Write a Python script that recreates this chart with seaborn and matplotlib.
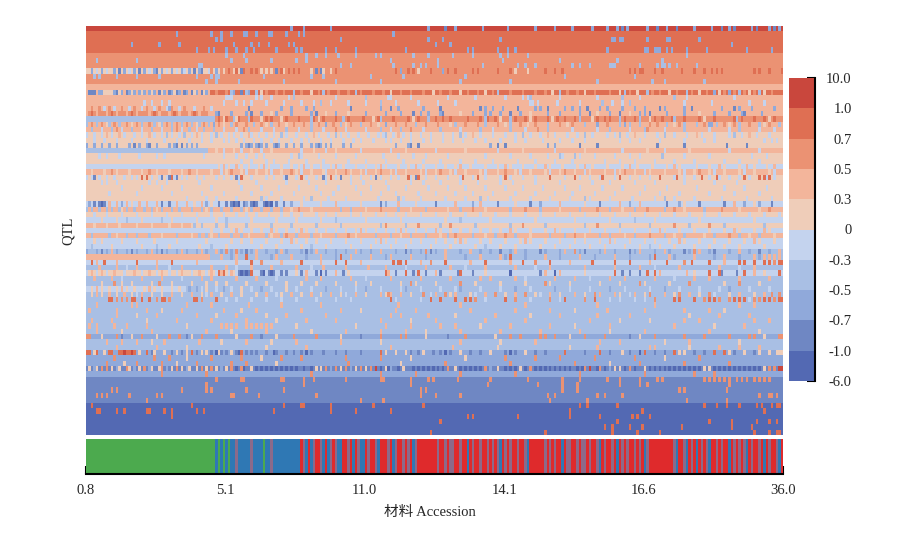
import numpy as np
import pandas as pd
import matplotlib
matplotlib.use("Agg")
import matplotlib.pyplot as plt
import seaborn as sns
from matplotlib.colors import ListedColormap, BoundaryNorm

sns.set_style("white")
plt.rcParams['font.family'] = ['Liberation Serif', 'Noto Sans CJK SC']

n_col = 280
level_labels = ['-6.0', '-1.0', '-0.7', '-0.5', '-0.3', '0', '0.3', '0.5', '0.7', '1.0', '10.0']
level_colors = ['#5369B3', '#6F87C3', '#90A9DA', '#A9BFE4', '#C4D3EE',
                '#EFCDB9', '#F3B59B', '#EB9273', '#DF6F53', '#C9473D']
acc_ticks = ['0.8', '5.1', '11.0', '14.1', '16.6', '36.0']

# main level of every QTL row, top to bottom
row_base = [9, 8, 8, 8, 8, 7, 7, 7, 7, 7, 7, 6, 8, 6, 6, 6, 6, 7, 6, 6,
            5, 5, 5, 6, 5, 5, 4, 6, 5, 5, 5, 5, 5, 4, 6, 5, 4, 5, 4, 6,
            4, 4, 3, 3, 4, 3, 4, 3, 3, 3, 3, 3, 3, 3, 3, 3, 3, 3, 2, 3,
            3, 2, 2, 2, 1, 2, 1, 1, 1, 1, 1, 0, 0, 0, 0, 0, 0]

# rows whose left part sits at another level: row -> (level, last column)
row_left = {8: (5, 50), 12: (6, 50), 15: (6, 55), 16: (7, 50), 17: (3, 52), 23: (3, 49),
            26: (4, 50), 37: (6, 42), 43: (6, 50), 46: (5, 60), 49: (4, 40)}

# accessions that leave the row level: row -> {level: columns}
row_marks = {
    0: {2: [82, 87, 98, 137, 148, 159, 169, 180, 188, 195, 203, 209, 213, 217, 225, 233, 244, 251, 258, 267, 274, 278],
        1: [144, 215, 229, 237, 255, 260, 269, 276]},
    1: {2: [36, 50, 54, 58, 63, 64, 68, 73, 74, 80, 85, 87, 123]},
    2: {2: [52, 54, 102, 137, 143, 166, 211, 214, 225, 233, 212, 215, 234, 246]},
    3: {2: [18, 29, 37, 59, 66, 69, 73, 81, 83, 140, 146, 259]},
    4: {2: [44, 49, 51, 56, 60, 64, 67, 76, 84, 86, 96, 100, 108, 128, 153, 155, 165, 169, 172, 224, 228, 229, 233, 209, 225, 230, 235, 241, 249, 265, 275]},
    5: {3: [56, 63, 88, 92, 96, 101, 108, 116, 118, 131, 137, 147, 155, 166, 169, 177, 241]},
    6: {3: [4, 20, 58, 64, 74, 84, 88, 122, 141, 167, 190, 213, 231]},
    7: {3: [45, 46, 102, 106, 123, 131, 134, 136, 141, 159, 173, 176, 180, 195, 198, 202, 210, 222, 229, 232, 211, 212, 231, 234, 237, 245]},
    8: {2: [2, 6, 11, 15, 19, 23, 27, 30, 34, 38, 41, 45, 52, 126, 143],
        1: [13, 21, 28, 43, 46, 62, 76, 94, 92],
        4: [4, 8, 17, 25, 32, 36, 39, 49],
        5: [51, 53, 55, 59, 61, 70, 72, 74, 79, 90, 95, 98, 133, 172, 177],
        8: [57, 60, 63, 66, 68, 78, 81, 83, 85, 100, 124, 129, 131, 138, 145, 148, 155, 157, 165, 170, 184, 188, 191, 218, 220, 222, 223, 228, 231, 239, 244, 248, 251, 253, 255, 268, 270, 274, 279]},
    9: {3: [3, 5, 12, 20, 29, 44, 50, 52, 53, 71, 90, 95, 114, 127, 152, 192, 220]},
    10: {3: [48, 52, 61, 79, 100, 118, 150, 170, 205, 227, 232, 248]},
    12: {1: [1, 2, 3, 12, 16, 29, 33, 36, 39, 42, 46, 62],
         2: [5, 6, 11, 14, 17, 19, 21, 23, 25, 27, 31, 34, 37, 40, 44, 48, 59, 65, 252, 258],
         3: [58, 64, 68, 83, 95, 108, 165, 190, 216, 225, 241, 262, 270],
         5: [7, 8, 9, 10, 13, 18, 22, 26, 30, 35, 43, 47, 70, 90, 122, 139, 150, 160, 187, 200, 214, 221, 234, 246, 254, 266, 272],
         7: [52, 56, 72, 76, 79, 86, 93, 97, 101, 105, 110, 115, 119, 126, 130, 135, 142, 146, 153, 157, 163, 170, 175, 180, 184, 193, 197, 204, 210, 218, 227, 230, 237, 243, 249, 256, 260, 264, 268, 275]},
    13: {4: [56, 57, 58, 68, 70, 74, 81, 100, 121, 122, 130, 145, 156, 168, 175, 177, 190, 205, 222, 241, 260],
         3: [83, 112, 178, 215, 236]},
    14: {4: [23, 26, 30, 33, 55, 60, 63, 66, 72, 79, 86, 91, 98, 105, 112, 124, 133, 141, 148, 178, 179, 181, 189, 198, 211, 215, 240, 251, 266, 272],
         3: [94, 118, 207, 218]},
    15: {7: [2, 5, 9, 14, 19, 24, 29, 34, 39, 47],
         4: [7, 11, 17, 22, 27, 32, 37, 43, 50],
         2: [33, 78, 82, 88, 91, 118, 125, 135, 160, 163, 167, 180, 182, 192, 195, 198, 206, 209, 215, 220, 224, 232, 240, 255, 262, 267, 276],
         1: [65, 106, 122, 142, 158, 173, 185, 201, 230, 243, 260]},
    16: {6: [0, 4, 8, 12, 16, 20, 25, 29, 33, 37, 41, 45, 49],
         8: [2, 10, 18, 27, 35, 43],
         2: [52, 58, 64, 70, 76, 82, 90, 100, 112, 120, 126, 134, 137, 142, 155, 160, 162, 166, 174, 185, 190, 198, 210, 222, 224, 233, 240, 252, 258, 263, 271],
         1: [53, 66, 92, 131, 143, 170, 202, 214, 226, 264],
         5: [74, 96, 105, 150, 178, 205, 218, 246]},
    17: {8: [53, 56, 61, 66, 72, 74, 80, 85, 91, 95, 100, 105, 111, 117, 123, 129, 133, 140, 143, 146, 153, 158, 161, 164, 172, 176, 180, 185, 189, 192, 196, 205, 208, 210, 216, 220, 228, 231, 235, 240, 246, 252, 260, 263, 268, 272, 276],
         7: [54, 58, 63, 68, 76, 82, 88, 97, 102, 108, 113, 120, 126, 135, 148, 151, 156, 168, 174, 183, 194, 200, 212, 218, 224, 233, 238, 243, 250, 255, 258, 265, 270, 278],
         5: [55, 60, 70, 78, 93, 115, 131, 166, 178, 187, 203, 226, 248, 274],
         3: [59, 65, 90, 103, 118, 137, 160, 170, 198, 214, 222, 236, 261]},
    18: {3: [0, 4, 9, 13, 22, 27, 30, 34, 38, 42, 45, 49, 58, 67, 74, 90, 102, 110, 132, 148, 160, 170, 185, 200, 214, 218, 222, 233, 240, 245, 253, 262, 270, 278],
         2: [51, 96, 120, 205, 216, 250, 251],
         7: [2, 6, 11, 16, 20, 25, 32, 36, 40, 47, 53, 60, 64, 70, 77, 83, 87, 93, 99, 106, 114, 124, 128, 136, 141, 152, 157, 165, 174, 180, 190, 195, 209, 226, 229, 238, 248, 256, 260, 266, 274],
         5: [8, 18, 29, 44, 55, 72, 80, 104, 117, 146, 168, 177, 193, 236, 258, 272]},
    19: {3: [2, 10, 18, 26, 34, 41, 47, 51, 65, 80, 90, 118, 126, 142, 158, 170, 185, 210, 224, 240, 262],
         4: [6, 14, 22, 30, 38, 44, 55, 60, 70, 75, 85, 95, 104, 112, 122, 135, 150, 163, 176, 195, 205, 218, 232, 250, 258, 270, 276],
         7: [12, 36, 63, 100, 130, 181, 225]},
    20: {4: [0, 3, 6, 10, 15, 19, 22, 27, 30, 34, 37, 42, 46, 50, 54, 57, 59, 62, 66, 69, 72, 75, 80, 84, 88, 93, 97, 102, 105, 109, 113, 117, 119, 123, 127, 130, 134, 138, 143, 147, 152, 158, 163, 168, 172, 178, 182, 188, 193, 197, 203, 209, 212, 217, 224, 229, 236, 241, 247, 252, 258, 263, 269, 274],
         3: [32, 39, 52, 78, 100, 120, 150, 175, 200, 214, 232, 260],
         6: [8, 13, 25, 44, 65, 91, 125, 155, 185, 220, 245, 266]},
    21: {4: [3, 7, 12, 18, 24, 31, 36, 41, 46, 50, 55, 57, 60, 63, 67, 70, 74, 77, 82, 86, 89, 94, 98, 103, 107, 110, 115, 120, 122, 126, 130, 135, 138, 143, 147, 151, 156, 160, 166, 172, 176, 183, 190, 195, 200, 214, 218, 222, 230, 240, 248, 252, 272, 275, 277]},
    22: {2: [0, 3, 6, 9, 12, 17, 21, 24, 28, 33, 35, 40, 42, 44, 62, 64, 66, 68, 70, 72, 75, 77, 80, 83, 86, 90, 92, 94, 96, 98, 103, 106, 124, 129, 162, 185, 188],
         1: [19, 25, 36, 38, 65, 69, 76, 93, 130, 133, 165, 168, 198, 205, 229, 240, 257, 265]},
    23: {5: [52, 59, 66, 74, 91, 100, 128, 152, 175, 200, 225, 242],
         4: [55, 62, 70, 86, 96, 110, 122, 140, 165, 188, 215, 232, 258, 270]},
    24: {4: [5, 8, 13, 21, 28, 31, 47, 55, 60, 64, 68, 71, 82, 86, 93, 100, 108, 119, 125, 131, 136, 145, 160, 170, 178, 185, 191, 198, 204, 212, 218, 222, 240, 250, 267, 273],
         3: [85, 190, 196, 231]},
    25: {4: [62, 66, 72, 75, 81, 88, 95, 105, 112, 120, 127, 135, 142, 150, 156, 163, 173, 180, 188, 195, 208, 214, 220, 228, 236, 244, 256, 262, 270]},
    26: {5: [53, 57, 62, 65, 69, 73, 78, 82, 85, 90, 94, 98, 103, 108, 112, 116, 120, 125, 129, 135, 140, 144, 148, 154, 160, 165, 170, 175, 180, 186, 191, 197, 203, 209, 215, 221, 227, 233, 238, 245, 250, 256, 262, 268, 273],
         6: [55, 60, 71, 87, 100, 118, 132, 150, 168, 184, 200, 218, 236, 254, 265, 276]},
    27: {5: [2, 7, 12, 17, 22, 28, 33, 38, 44, 50, 56, 62, 68, 72, 78, 84, 90, 95, 100, 106, 110, 116, 122, 128, 134, 140, 146, 152, 158, 165, 172, 178, 184, 190, 196, 202, 208, 214, 220, 226, 232, 238, 244, 250, 256, 262, 268, 274],
         4: [54, 64, 74, 86, 96, 112, 124, 136, 148, 160, 174, 186, 200, 212, 224, 240, 252, 264, 276],
         7: [10, 25, 41, 58, 82, 104, 118, 142, 168, 192, 216, 246]},
    28: {4: [0, 2, 5, 8, 11, 15, 18, 20, 26, 29, 32, 35, 38, 40, 44, 47, 52, 55, 58, 61, 66, 72, 75, 79, 84, 88, 92, 96, 100, 106, 110, 114, 118, 122, 125, 130, 136, 140, 145, 150, 155, 160, 166, 170, 175, 180, 186, 192, 198, 202, 206, 212, 218, 222, 226, 230, 236, 240, 244, 250, 254, 258, 262, 266, 270, 273, 276],
         1: [3, 30, 33, 36, 60, 80, 95, 102, 116, 132],
         8: [22, 24, 34, 62, 86, 98, 129, 133, 151, 157, 168, 186, 196, 207, 214, 230, 237, 247, 253, 264, 270, 272, 274]},
    29: {4: [6, 8, 12, 25, 28, 32, 45, 61, 68, 80, 89, 96, 106, 111, 120, 130, 135, 142, 150, 157, 166, 171, 180, 190, 203, 210, 220, 228, 240, 252, 261]},
    30: {4: [14, 22, 30, 38, 50, 62, 70, 77, 85, 92, 101, 108, 114, 121, 128, 137, 145, 152, 160, 168, 175, 183, 192, 198, 207, 215, 224, 233, 245, 256, 264, 273]},
    31: {4: [9, 20, 34, 46, 55, 66, 74, 83, 94, 99, 110, 118, 124, 133, 140, 148, 155, 163, 172, 180, 188, 195, 204, 212, 222, 230, 238, 250, 260, 270]},
    32: {4: [40, 48, 52, 60, 72, 78, 87, 97, 104, 117, 127, 134, 144, 152, 161, 170, 178, 186, 194, 202, 210, 219, 228, 236, 244, 255, 265, 275],
         3: [70, 90, 125, 158, 200, 232]},
    33: {1: [3, 5, 7, 30, 33, 53, 56, 58, 60, 63, 66, 68, 71, 73, 76, 79, 118, 140, 165, 178, 206, 233, 246, 256, 275],
         0: [6, 59, 61, 67, 72, 74],
         6: [9, 12, 16, 21, 24, 28, 36, 40, 46, 82, 100, 125, 148, 158, 190, 214, 222, 260],
         5: [18, 43, 50, 86, 94, 110, 132, 172, 200, 240, 268],
         2: [1, 14, 48, 64, 82, 120, 155, 182, 218, 238, 264, 270]},
    34: {3: [0, 2, 5, 8, 10, 13, 16, 19, 23, 26, 30, 34, 37, 42, 46, 50, 54, 58, 62, 66, 70, 74, 78, 102, 106, 125, 136, 150, 170, 182, 198, 210, 220, 232, 248],
         5: [14, 28, 48, 64, 82, 90, 112, 130, 145, 160, 190, 215, 240, 262, 270],
         7: [85, 118, 155, 176, 205, 225, 236, 255, 274]},
    35: {4: [3, 8, 14, 20, 26, 32, 38, 44, 50, 55, 60, 64, 68, 73, 78, 82, 86, 92, 96, 100, 106, 110, 116, 120, 124, 128, 134, 140, 146, 152, 158, 164, 170, 176, 182, 188, 194, 200, 206, 212, 218, 224, 230, 236, 242, 248, 254, 260, 266, 272, 278]},
    36: {5: [6, 12, 22, 34, 44, 52, 66, 76, 84, 94, 112, 126, 144, 162, 180, 196, 210, 228, 246, 268],
         3: [16, 30, 56, 100, 150, 220]},
    37: {5: [3, 8, 13, 20, 26, 33, 38, 44, 47, 50, 54, 58, 62, 68, 72, 76, 80, 85, 90, 95, 100, 105, 111, 116, 120, 125, 130, 136, 140, 146, 152, 158, 162, 168, 174, 180, 186, 192, 198, 204, 210, 216, 222, 228, 234, 240, 246, 252, 258, 264, 270, 276],
         3: [43, 46, 52, 56, 64, 74, 82, 92, 102, 118, 128, 142, 156, 170, 184, 200, 214, 226, 242, 256, 272],
         7: [120, 133, 146, 175, 205, 236, 250]},
    38: {5: [50, 54, 58, 62, 66, 70, 76, 80, 84, 88, 92, 96, 100, 104, 108, 112, 116, 120, 124, 128, 132, 136, 142, 146, 150, 154, 158, 162, 166, 172, 178, 184, 190, 196, 202, 208, 214, 220, 226, 232, 238, 244, 250, 256, 262, 268, 274],
         6: [60, 74, 86, 110, 126, 140, 170, 188, 230, 260, 272]},
    39: {3: [2, 9, 16, 20, 25, 36, 45, 48, 53, 58, 62, 72, 78, 84, 90, 100, 116, 122, 130, 136, 145, 155, 164, 172, 186, 192, 206, 210, 220, 232, 240, 252, 262, 270],
         5: [12, 30, 42, 50, 65, 74, 94, 108, 126, 142, 160, 178, 200, 216, 236, 248, 266, 276],
         7: [80, 105, 148, 168, 196, 226, 258]},
    40: {5: [3, 6, 14, 20, 27, 36, 48, 58, 62, 66, 72, 78, 84, 88, 92, 98, 104, 110, 116, 120, 124, 130, 134, 140, 144, 148, 152, 158, 162, 168, 174, 178, 184, 190, 196, 200, 206, 212, 218, 224, 228, 234, 240, 246, 252, 258, 264, 270, 276],
         6: [82, 118, 150, 176, 210, 238, 268]},
    41: {5: [10, 22, 33, 45, 56, 70, 76, 86, 96, 106, 114, 122, 128, 138, 146, 156, 166, 172, 182, 188, 194, 202, 208, 216, 222, 230, 236, 244, 250, 256, 262, 272],
         3: [2, 28, 50, 90, 160, 226]},
    42: {2: [0, 4, 8, 12, 16, 20, 24, 28, 32, 36, 40, 44, 48, 54, 58, 62, 66, 72, 76, 80, 86, 90, 96, 100, 104, 110, 114, 124, 130, 134, 140, 150, 158, 162, 170, 176, 184, 190, 198, 206, 212, 220, 228, 234, 242, 250, 258, 266, 274],
         1: [6, 18, 30, 64, 88, 128, 138, 166, 182, 200, 218, 240, 252, 270],
         6: [10, 26, 38, 46, 52, 68, 78, 92, 108, 118, 144, 154, 172, 192, 208, 222, 232, 246, 262, 278],
         7: [56, 60, 136, 196, 244]},
    43: {3: [52, 56, 62, 66, 70, 78, 84, 90, 96, 104, 110, 116, 126, 132, 140, 148, 156, 162, 172, 180, 186, 194, 200, 208, 214, 222, 230, 240, 248, 258, 266],
         2: [58, 74, 88, 100, 120, 136, 152, 168, 176, 190, 204, 218, 226, 236, 252, 262, 270],
         6: [54, 60, 68, 76, 82, 94, 106, 114, 122, 130, 144, 158, 166, 184, 198, 212, 234, 244, 256, 268, 272, 274, 276, 278],
         8: [64, 102, 170, 228]},
    44: {4: [10, 16, 24, 30, 36, 50, 56, 66, 74, 82, 90, 98, 106, 114, 122, 130, 136, 142, 150, 158, 166, 174, 182, 190, 198, 206, 214, 222, 230, 238, 246, 254, 262, 270],
         8: [2, 7, 20, 34, 66, 86, 100, 104, 123, 125, 126, 128, 144, 160, 175, 186, 203, 212, 218, 233, 243, 250, 262, 264, 268, 272, 274, 278, 279],
         6: [4, 12, 28, 44, 60, 78, 94, 110, 134, 154, 170, 194, 226, 256],
         7: [70, 138, 180, 240, 276]},
    45: {6: [5, 12, 20, 28, 38, 50, 56, 66, 74, 84, 95, 104, 113, 120, 136, 146, 160, 172, 186, 200, 212, 222, 238, 254, 268],
         4: [16, 33, 60, 90, 128, 152, 180, 228, 262]},
    46: {4: [0, 4, 8, 15, 22, 28, 33, 36, 42, 48, 52, 57],
         6: [2, 6, 11, 19, 25, 30, 38, 45, 50, 54, 58, 88, 100, 121, 140, 184, 190, 230, 241, 268],
         1: [61, 63, 65, 70, 73, 75, 78, 80, 86, 92, 96, 103, 124, 131, 136, 142, 149, 155, 182, 215, 218, 222, 255, 261],
         0: [62, 64, 71, 74, 94, 170, 188],
         8: [53, 55, 66, 120, 128, 133, 150, 212, 225, 228, 250, 254, 264, 278],
         5: [84, 105, 160, 200, 244, 272]},
    47: {6: [3, 10, 22, 30, 46, 50, 60, 68, 88, 94, 106, 122, 134, 146, 158, 162, 172, 188, 196, 210, 216, 228, 244, 250, 262, 274],
         4: [14, 38, 76, 112, 176, 202, 236]},
    48: {5: [6, 14, 18, 26, 34, 42, 48, 52, 56, 64, 72, 80, 86, 92, 100, 108, 114, 126, 132, 140, 150, 156, 166, 176, 186, 194, 206, 214, 224, 234, 242, 256, 270],
         7: [11, 29, 130, 150, 184, 222, 242, 262]},
    49: {5: [2, 6, 9, 12, 16, 19, 23, 27, 30, 34, 37, 48, 62, 80],
         2: [41, 44, 55, 70, 96, 112, 128, 150, 172, 188, 210, 232, 258],
         6: [4, 14, 25],
         4: [46, 52, 58, 66, 74, 84, 90, 102, 108, 118, 126, 134, 142, 148, 158, 166, 178, 194, 202, 216, 226, 238, 246, 254, 266, 274]},
    50: {5: [2, 6, 12, 18, 26, 30, 38, 46, 54, 62, 68, 78, 86, 94, 102, 112, 120, 130, 146, 154, 168, 180, 190, 200, 214, 224, 236, 246, 258, 268],
         6: [4, 9, 15, 22, 34, 42, 50, 58, 72, 82, 90, 98, 108, 118, 122, 126, 140, 148, 160, 172, 186, 196, 206, 212, 220, 232, 242, 262, 272],
         7: [121, 135, 144, 164, 176, 204, 226, 238, 250, 275, 278],
         4: [20, 48, 76, 104, 138, 156, 182, 218, 252]},
    51: {8: [9, 10, 18, 19, 22, 25, 30, 31, 43, 44, 52, 122, 138, 142, 148, 152, 154, 168, 192, 204, 236, 238, 244, 250, 252, 260, 262, 264, 272, 274, 278, 279],
         7: [12, 14, 16, 28, 33, 46, 156, 172, 186, 200, 228, 248, 254, 258, 268, 270, 276],
         4: [56, 60, 66, 72, 78, 84, 92, 100, 106, 124, 134, 160, 178, 190, 210, 214, 220, 224, 266]},
    52: {6: [4, 18, 20, 40, 50, 65, 78, 94, 125, 150, 176, 205, 228, 262, 268]},
    53: {6: [1, 12, 24, 38, 55, 68, 86, 102, 124, 132, 154, 172, 186, 209, 224, 240, 250],
         5: [30, 62, 110, 196, 256]},
    54: {6: [12, 28, 44, 60, 80, 96, 122, 126, 137, 164, 190, 205, 218, 254, 266],
         5: [20, 52, 72, 148, 178, 242]},
    55: {6: [2, 10, 36, 50, 64, 88, 100, 118, 140, 160, 176, 202, 240, 246, 268, 274],
         5: [24, 76, 130, 214, 226]},
    56: {6: [1, 4, 11, 16, 24, 54, 56, 58, 60, 64, 66, 68, 70, 72, 74, 120, 130, 142, 148, 170, 186, 210, 236, 264],
         5: [40, 84, 108, 158, 196, 252]},
    57: {6: [4, 26, 48, 72, 104, 118, 128, 150, 166, 182, 198, 224, 250],
         5: [14, 58, 90, 136, 210, 270]},
    58: {7: [0, 1, 12, 22, 33, 37, 46, 52, 66, 83, 92, 118, 126, 128, 152, 170, 174, 182, 184, 188, 200, 208, 228, 240, 248, 258, 266, 268, 278, 279],
         5: [6, 18, 28, 42, 60, 76, 102, 136, 164, 194, 222, 272],
         1: [14, 40, 70, 110, 145, 218]},
    59: {6: [8, 14, 20, 31, 45, 64, 84, 102, 150, 180, 206, 214, 242],
         5: [26, 54, 74, 118, 166, 232, 262]},
    60: {6: [12, 28, 88, 122, 147, 205, 226, 228, 254, 262, 270],
         5: [40, 72, 165, 194, 242]},
    61: {8: [0, 1, 4, 9, 10, 13, 14, 16, 17, 19, 24, 42, 62, 118, 192, 206, 224, 236, 252, 256],
         9: [15, 18],
         5: [3, 7, 21, 27, 31, 36, 40, 46, 48, 53, 58, 120, 124, 128, 135, 150, 162, 176, 215, 238, 240, 258, 264, 270, 274, 277, 278, 279],
         1: [26, 34, 38, 44, 50, 54, 56, 60, 64, 66, 68, 72, 76, 80, 83, 86, 90, 95, 100, 104, 110, 130, 133, 139, 142, 146, 154, 158, 168, 172, 180, 184, 200, 210, 218, 228, 232, 244, 248, 260, 268],
         0: [52, 61, 75, 88, 144, 170, 222]},
    62: {7: [11, 27, 33, 50, 62, 78, 86, 104, 118, 168, 180, 190, 204, 220, 246],
         5: [40, 70, 130, 152, 232]},
    63: {7: [8, 20, 30, 44, 58, 64, 105, 144, 170, 196, 222, 240, 258],
         5: [15, 36, 76, 126, 210]},
    64: {0: [60, 63, 68, 70, 72, 74, 76, 78, 80, 82, 84, 87, 90, 118, 121, 125, 131, 133, 135, 137, 139, 141, 143, 150, 152, 154, 156, 158, 168, 170, 172, 176, 180, 182, 184, 186, 188, 190, 192, 194, 197, 199, 205, 208, 216, 220, 226, 228, 230, 232, 234, 236, 238, 240, 242, 244, 246, 252, 254, 256, 258, 260, 262, 264, 266, 268, 270],
         5: [1, 4, 10, 13, 17, 21, 26, 29, 34, 38, 41, 44, 48, 52, 56, 66, 92, 94, 102, 108, 112, 120, 127, 148, 165, 174, 212, 214, 224, 248, 250, 272],
         7: [6, 8, 16, 23, 30, 36, 46, 50, 58, 62, 96, 100, 104, 110, 114, 145, 160, 178, 200, 206, 218, 274, 276],
         9: [116, 202, 278, 279],
         2: [3, 12, 19, 25, 32, 40, 54, 98, 106, 122, 162, 210]},
    65: {7: [30, 48, 90, 118, 132, 150, 172, 198, 224, 244, 252]},
    66: {7: [52, 62, 63, 78, 79, 87, 91, 104, 118, 119, 130, 137, 139, 149, 162, 177, 191, 198, 209, 214, 222, 229, 231, 248, 250, 252, 254, 256, 258, 261, 263, 265, 268, 270, 272, 274]},
    67: {7: [48, 87, 130, 161, 181, 191, 197, 214, 222, 225, 258]},
    68: {7: [10, 12, 38, 48, 50, 64, 79, 134, 136, 191, 197, 238, 240, 257]},
    69: {7: [4, 6, 8, 17, 28, 30, 58, 59, 69, 92, 134, 140, 150, 185, 188, 205, 208, 215, 270, 274, 275, 277]},
    70: {7: [24, 110, 119, 186, 201, 241, 257]},
    71: {8: [2, 42, 79, 86, 87, 98, 115, 135, 198, 201, 213, 248, 253, 257, 262, 269, 271, 275, 277, 278]},
    72: {8: [4, 5, 12, 15, 24, 25, 31, 34, 44, 47, 75, 98, 108, 122, 194, 223, 272]},
    73: {8: [34, 153, 155, 173, 194, 206, 219, 221, 226]},
    74: {8: [142, 213, 250, 259, 269, 274, 277]},
    75: {8: [208, 211, 218, 223, 239, 259, 267]},
    76: {8: [138, 184, 211, 221, 230, 268, 274, 277, 278]},
}

# population group of every accession (G, B, R, M = mixed red and blue)
acc_groups = ("GGGGGGGGGGGGGGGGGGGGGGGGGGGGGGGGGGGGGGGG"
              "GGGGGGGGGGGGBGBGBGBBMBBBBBMBBBBGBBMBBBBB"
              "BBBBBBRMBRBMRRMBRBMRMBBRRMRBRMBBRMRRMBRR"
              "RMRBMRRMRMRBMRRRRRRRRMRRMRMMRRMRRBRMRRMR"
              "RMRMRMBRMRMRRMRRMBRRRRRRMRMRMRRBRMMRRMRM"
              "MRMRRMBRMRRMRBRMRMRRMRMRBMRRRRRRRRRRMBRR"
              "MBRMRBRMRMBRRMRMRRBRMRMRMBRMRRMRBRMRRMBR")
group_code = {'G': 0, 'B': 1, 'M': 2, 'R': 3}
group_colors = ['#4CAA4E', '#2F78B4', '#8C6A8A', '#DF2A2C']

# build the table for the heatmap
levels = np.tile(np.array(row_base).reshape(-1, 1), (1, n_col))
for r, (lev, end) in row_left.items():
    levels[r, :end] = lev
for r, marks in row_marks.items():
    for lev, cols in marks.items():
        levels[r, cols] = lev
df = pd.DataFrame(levels)
df_group = pd.DataFrame([[group_code[g] for g in acc_groups]])

fig = plt.figure(figsize=(9, 5.33), dpi=100)
W, H = 900, 533
ax = fig.add_axes([86/W, 1-435/H, 697/W, 409/H])
ax_group = fig.add_axes([86/W, 1-474/H, 697/W, 35/H])
cax = fig.add_axes([789/W, 1-381/H, 26/W, 303/H])

cmap = ListedColormap(level_colors)
norm = BoundaryNorm(np.arange(11), 10)
sns.heatmap(df, ax=ax, cmap=cmap, norm=norm, cbar_ax=cax, xticklabels=False, yticklabels=False,
            cbar_kws={'ticks': np.arange(11), 'spacing': 'uniform'})
ax.set_ylabel('QTL', fontsize=10.5, labelpad=0)
ax.yaxis.set_label_coords((75-86)/697, 0.5)

# colour bar, black line on the right only
cax.set_yticklabels(level_labels, fontsize=10.5, ha='right')
cax.tick_params(axis='y', direction='in', length=6, width=1.5, color='black', pad=26.5, right=True, left=False)
cbar = ax.collections[0].colorbar
cbar.outline.set_visible(False)
cax.spines['right'].set_visible(True)
cax.spines['right'].set_color('black')
cax.spines['right'].set_linewidth(1.5)

# accession groups under the heatmap
sns.heatmap(df_group, ax=ax_group, cmap=ListedColormap(group_colors), vmin=0, vmax=3, cbar=False,
            xticklabels=False, yticklabels=False)
ax_group.set_xticks(np.linspace(0, df_group.shape[1], len(acc_ticks)))
ax_group.set_xticklabels(acc_ticks, fontsize=10.5, rotation=0)
ax_group.tick_params(axis='x', direction='in', bottom=True, length=6, width=1.5, color='black', pad=7)
ax_group.spines['bottom'].set_visible(True)
ax_group.spines['bottom'].set_color('black')
ax_group.spines['bottom'].set_linewidth(1.5)
ax_group.set_xlabel('材料 Accession', fontsize=10.5, labelpad=7)
ax_group.xaxis.set_label_coords(344/697, -0.9)

fig.savefig('out.png', dpi=100)
